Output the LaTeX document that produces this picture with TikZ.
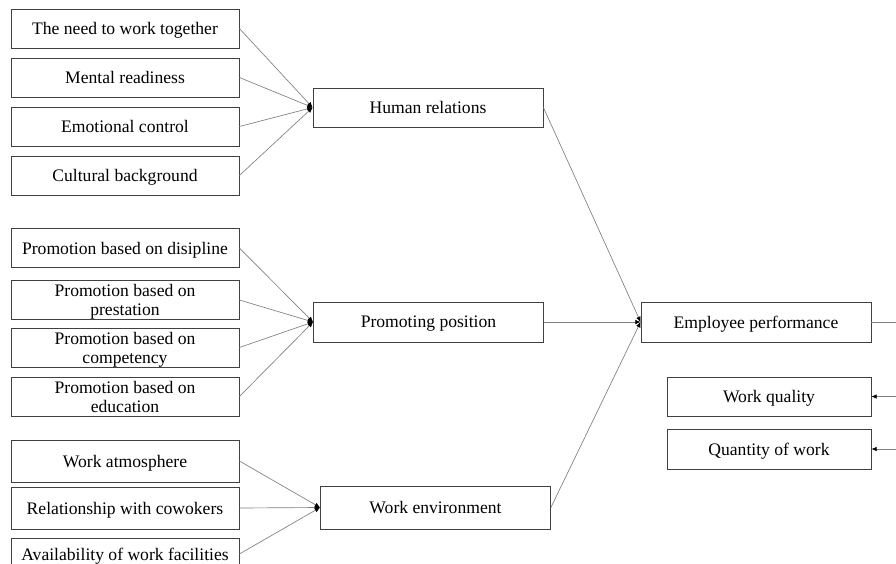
\documentclass[tikz,border=0pt]{standalone}
\usepackage{fontspec}
\setmainfont{Liberation Serif}
\usepackage{tikz}
\usetikzlibrary{positioning,arrows.meta}

\begin{document}
\begin{tikzpicture}[x=0.75pt,y=-0.75pt,
    bx/.style={draw=black!75,line width=0.6pt,minimum width=228*0.75pt,minimum height=39*0.75pt,inner sep=0pt,text depth=0pt,align=center,font=\fontsize{13.2}{14.4}\selectfont},
    mid/.style={bx,minimum width=230*0.75pt},
    ln/.style={draw=black!50,line width=0.5pt,-{Latex[length=4pt,width=3.5pt,black]}}]
    \useasboundingbox (0,0) rectangle (896,564);

    \node[bx] (b1) at (125,28.5) {The need to work together};
    \node[bx] (b2) at (125,77.5) {Mental readiness};
    \node[bx] (b3) at (125,126.5) {Emotional control};
    \node[bx] (b4) at (125,175.5) {Cultural background};

    \node[bx] (p1) at (125,248) {Promotion based on disipline};
    \node[bx] (p2) at (125,300) {Promotion based on\\prestation};
    \node[bx] (p3) at (125,347.5) {Promotion based on\\competency};
    \node[bx] (p4) at (125,396.5) {Promotion based on\\education};

    \node[bx,minimum height=42*0.75pt] (w1) at (125,461) {Work atmosphere};
    \node[bx,minimum height=42*0.75pt] (w2) at (125,508) {Relationship with cowokers};
    \node[bx,minimum height=32*0.75pt] (w3) at (125,554) {Availability of work facilities};

    \node[mid] (h) at (428,107.5) {Human relations};
    \node[mid,minimum height=40*0.75pt] (p) at (428.5,322) {Promoting position};
    \node[mid,minimum height=43*0.75pt] (w) at (435.5,507.5) {Work environment};

    \node[mid,minimum height=40*0.75pt] (e) at (756,322) {Employee performance};
    \node[bx,minimum width=204*0.75pt] (q) at (769,396.5) {Work quality};
    \node[bx,minimum width=204*0.75pt,minimum height=40*0.75pt] (n) at (769,449) {Quantity of work};

    \coordinate (eo) at (896,322);
    \coordinate (qi) at (896,396.5);
    \coordinate (ni) at (896,449);

    \draw[ln] (b1.east) -- (h.west);
    \draw[ln] (b2.east) -- (h.west);
    \draw[ln] (b3.east) -- (h.west);
    \draw[ln] (b4.east) -- (h.west);

    \draw[ln] (p1.east) -- (p.west);
    \draw[ln] (p2.east) -- (p.west);
    \draw[ln] (p3.east) -- (p.west);
    \draw[ln] (p4.east) -- (p.west);

    \draw[ln] (w1.east) -- (w.west);
    \draw[ln] (w2.east) -- (w.west);
    \draw[ln] (w3.east) -- (w.west);

    \draw[ln] (h.east) -- (e.west);
    \draw[ln] (p.east) -- (e.west);
    \draw[ln] (w.east) -- (e.west);

    \draw[draw=black!50,line width=0.5pt] (e.east) -- (eo);
    \draw[ln] (qi) -- (q.east);
    \draw[ln] (ni) -- (n.east);
\end{tikzpicture}
\end{document}
